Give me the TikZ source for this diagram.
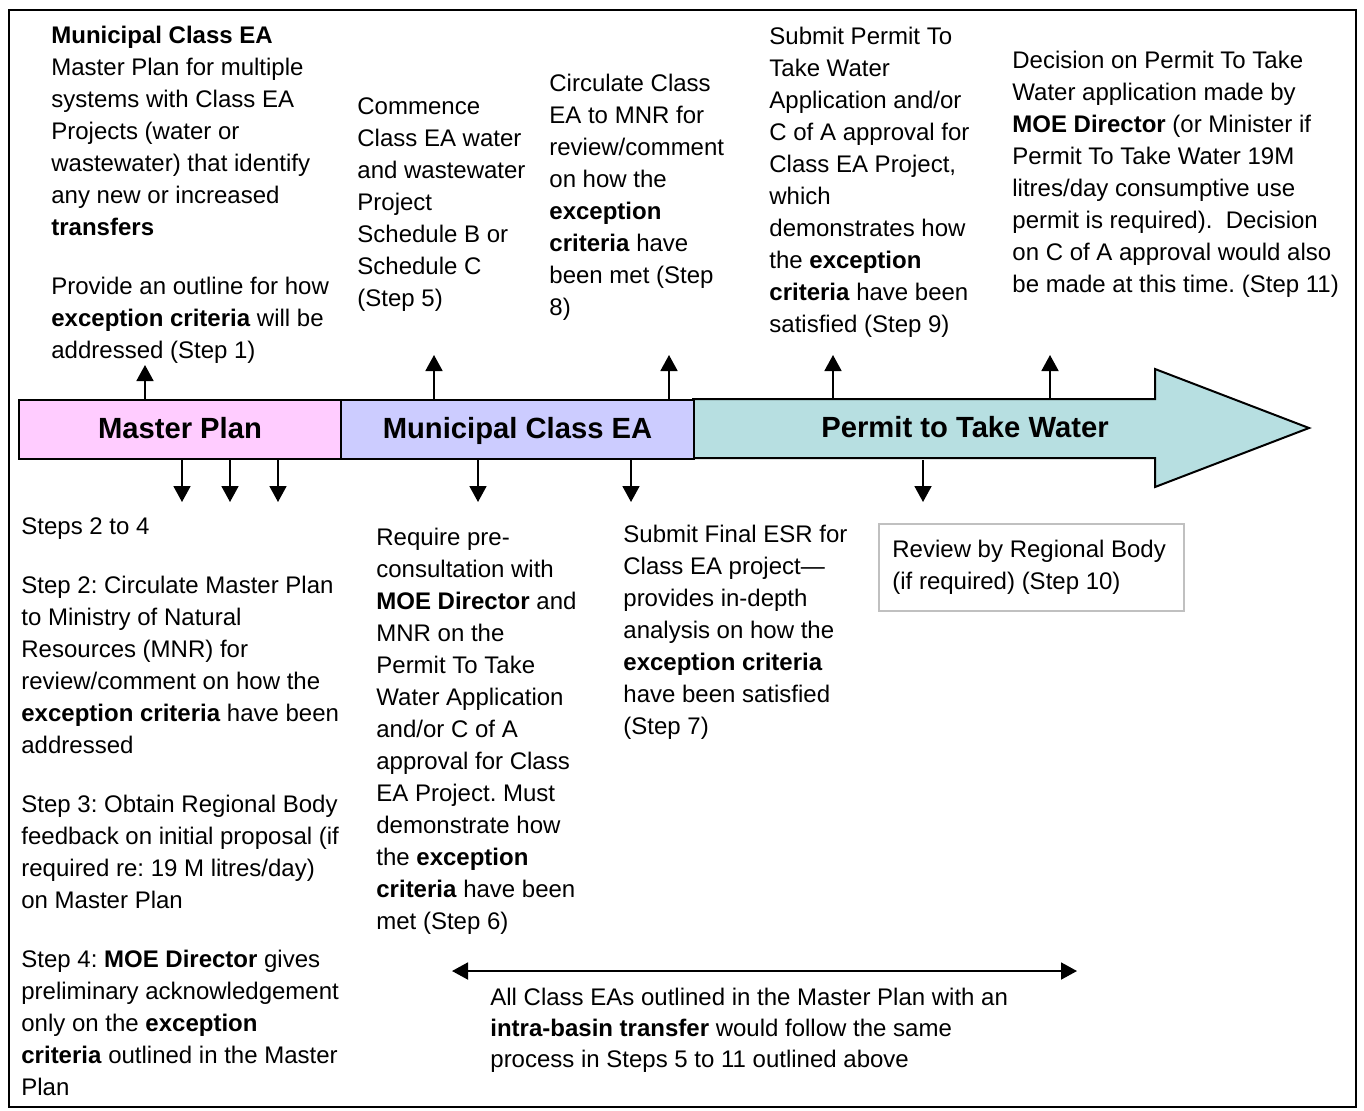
\documentclass[tikz,border=0pt]{standalone}
\usepackage{fontspec}
\setmainfont{Liberation Sans}
\usetikzlibrary{arrows.meta}
\definecolor{mppink}{HTML}{FFCCFF}
\definecolor{eablue}{HTML}{CCCCFF}
\definecolor{ptteal}{HTML}{B7DFE1}
\definecolor{boxgray}{HTML}{C0C0C0}
\frenchspacing
\begin{document}
\frenchspacing
\begin{tikzpicture}[x=0.5pt,y=-0.5pt,
  txt/.style={anchor=north west, inner sep=0pt, align=left, font=\fontsize{12pt}{16pt}\selectfont\frenchspacing},
  barlbl/.style={font=\fontsize{14.6pt}{16pt}\selectfont\bfseries, text height=10.5pt, text depth=2pt, inner sep=0pt},
  seg/.style={draw=black, line width=1pt, anchor=north west, minimum height=29.5pt, barlbl},
  conn/.style={line width=0.9pt, -{Triangle[length=8pt,width=8.5pt]}},
  dconn/.style={line width=0.9pt, {Triangle[length=8pt,width=8.5pt]}-{Triangle[length=8pt,width=8.5pt]}},
]
\useasboundingbox (0,0) rectangle (1364,1110);
\draw[line width=1pt] (9,10) rectangle (1356,1107);

% timeline bar
\draw[line width=1pt, fill=ptteal] (693,399) -- (1155,399) -- (1155,369) -- (1309,428) -- (1155,487) -- (1155,458) -- (693,458) -- cycle;
\node[barlbl] (ptw) at (965,428.5) {Permit to Take Water};
\node[seg, fill=mppink, minimum width=161pt] (mp) at (18,399) {Master Plan};
\node[seg, fill=eablue, minimum width=176.5pt] (ea) at (340,399) {Municipal Class EA};

% upper texts
\node[txt] (t1) at (51,25.5) {\textbf{Municipal Class EA}\\ Master Plan for multiple\\ systems with Class EA\\ Projects (water or\\ wastewater) that identify\\ any new or increased\\ \textbf{transfers}\\[13.5pt] Provide an outline for how\\ \textbf{exception criteria} will be\\ addressed (Step 1)};
\node[txt] (t2) at (357,97.5) {Commence\\ Class EA water\\ and wastewater\\ Project\\ Schedule B or\\ Schedule C\\ (Step 5)};
\node[txt] (t3) at (549,73.5) {Circulate Class\\ EA to MNR for\\ review/comment\\ on how the\\ \textbf{exception}\\ \textbf{criteria} have\\ been met (Step\\ 8)};
\node[txt] (t4) at (769,26.5) {Submit Permit To\\ Take Water\\ Application and/or\\ C of A approval for\\ Class EA Project,\\ which\\ demonstrates how\\ the \textbf{exception}\\ \textbf{criteria} have been\\ satisfied (Step 9)};
\node[txt] (t5) at (1012,50.5) {Decision on Permit To Take\\ Water application made by\\ \textbf{MOE Director} (or Minister if\\ Permit To Take Water 19M\\ litres/day consumptive use\\ permit is required).\ \ Decision\\ on C of A approval would also\\ be made at this time. (Step 11)};

% lower texts
\node[txt] (t6) at (21,517.5) {Steps 2 to 4\\[13.5pt] Step 2: Circulate Master Plan\\ to Ministry of Natural\\ Resources (MNR) for\\ review/comment on how the\\ \textbf{exception criteria} have been\\ addressed\\[13.5pt] Step 3: Obtain Regional Body\\ feedback on initial proposal (if\\ required re: 19 M litres/day)\\ on Master Plan\\[13.5pt] Step 4: \textbf{MOE Director} gives\\ preliminary acknowledgement\\ only on the \textbf{exception}\\ \textbf{criteria} outlined in the Master\\ Plan};
\node[txt] (t7) at (376,527.5) {Require pre-\\ consultation with\\ \textbf{MOE Director} and\\ MNR on the\\ Permit To Take\\ Water Application\\ and/or C of A\\ approval for Class\\ EA Project. Must\\ demonstrate how\\ the \textbf{exception}\\ \textbf{criteria} have been\\ met (Step 6)};
\node[txt] (t8) at (623,524.5) {Submit Final ESR for\\ Class EA project—\\ provides in-depth\\ analysis on how the\\ \textbf{exception criteria}\\ have been satisfied\\ (Step 7)};
\node[draw=boxgray, line width=1pt, anchor=north west, inner sep=0pt, minimum width=152.5pt, minimum height=43.5pt] (rev) at (878,523) {};
\node[txt] (revt) at (892,539.5) {Review by Regional Body\\ (if required) (Step 10)};
\node[txt, font=\fontsize{12pt}{15.5pt}\selectfont\frenchspacing] (t10) at (490,987.5) {All Class EAs outlined in the Master Plan with an\\ \textbf{intra-basin transfer} would follow the same\\ process in Steps 5 to 11 outlined above};

% connector ends
\coordinate (u1) at (145,365);
\coordinate (u2) at (434,355);
\coordinate (u3) at (669,355);
\coordinate (u4) at (833,355);
\coordinate (u5) at (1050,355);
\coordinate (d1) at (182,502);
\coordinate (d2) at (230,502);
\coordinate (d3) at (278,502);
\coordinate (d4) at (478,502);
\coordinate (d5) at (631,502);
\coordinate (d6) at (923,502);
\coordinate (bl) at (452,971);
\coordinate (br) at (1077,971);

\draw[conn] (u1 |- mp.north) -- (u1);
\draw[conn] (u2 |- ea.north) -- (u2);
\draw[conn] (u3 |- ea.north) -- (u3);
\draw[conn] (u4 |- ea.north) -- (u4);
\draw[conn] (u5 |- ea.north) -- (u5);
\draw[conn] (d1 |- mp.south) -- (d1);
\draw[conn] (d2 |- mp.south) -- (d2);
\draw[conn] (d3 |- mp.south) -- (d3);
\draw[conn] (d4 |- ea.south) -- (d4);
\draw[conn] (d5 |- ea.south) -- (d5);
\draw[conn] (d6 |- ea.south) -- (d6);
\draw[dconn] (bl) -- (br);
\end{tikzpicture}
\end{document}
